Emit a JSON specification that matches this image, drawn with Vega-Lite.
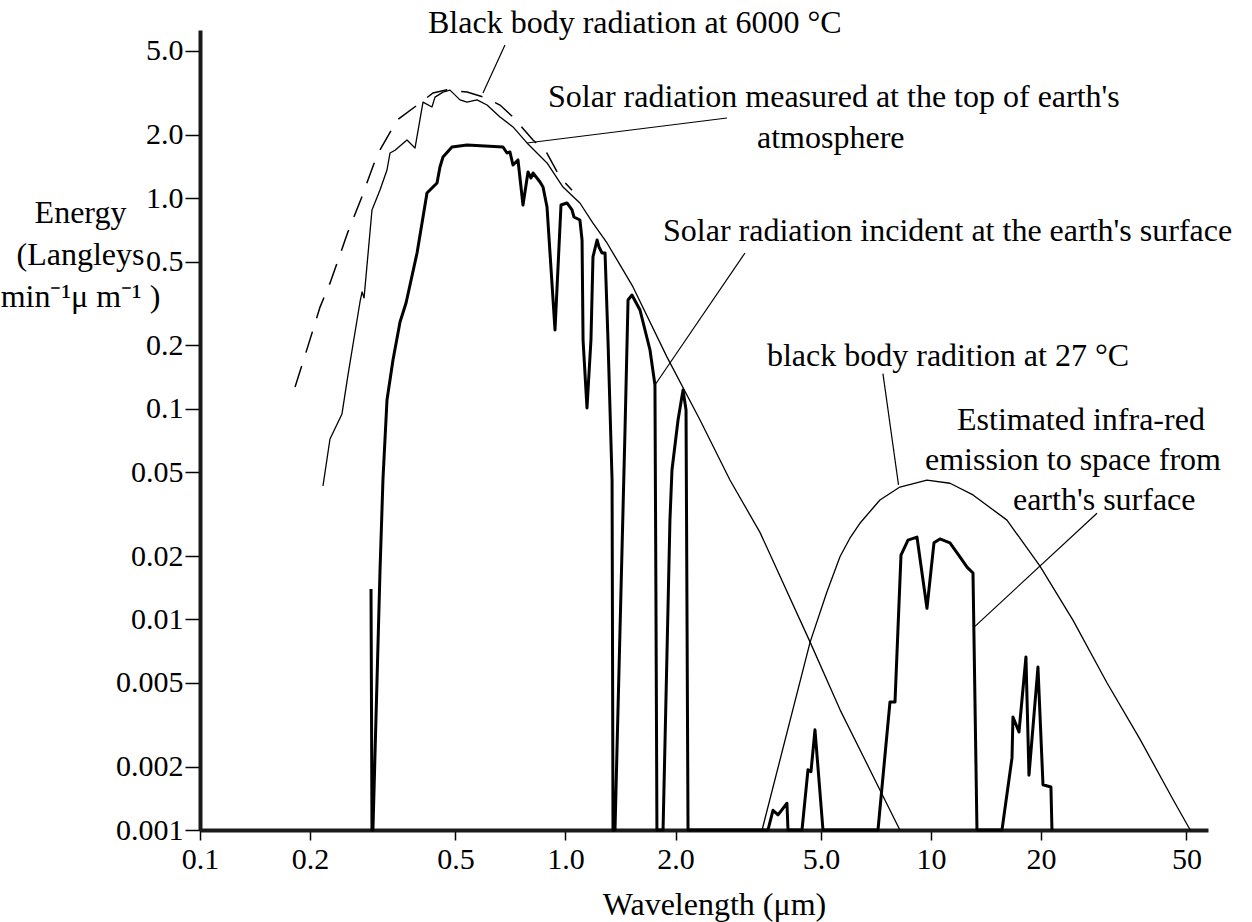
{
  "$schema": "https://vega.github.io/schema/vega-lite/v6.json",
  "width": 1008,
  "height": 800,
  "autosize": {"type": "none"},
  "padding": {"left": 200, "top": 30, "right": 44, "bottom": 92},
  "background": "white",
  "config": {"font": "Liberation Serif", "view": {"stroke": null}},
  "datasets": {
    "bb6000": [
      {"w": 0.182, "e": 0.127}, {"w": 0.1975, "e": 0.199}, {"w": 0.213, "e": 0.304}, {"w": 0.2268, "e": 0.395},
      {"w": 0.254, "e": 0.692}, {"w": 0.277, "e": 1.01}, {"w": 0.305, "e": 1.6}, {"w": 0.346, "e": 2.35},
      {"w": 0.4, "e": 2.83}, {"w": 0.434, "e": 3.16}, {"w": 0.474, "e": 3.27}, {"w": 0.538, "e": 3.19},
      {"w": 0.594, "e": 3.03}, {"w": 0.662, "e": 2.77}, {"w": 0.718, "e": 2.43}, {"w": 0.815, "e": 1.89},
      {"w": 0.889, "e": 1.64}, {"w": 0.966, "e": 1.26}, {"w": 1.042, "e": 1.09}
    ],
    "solarTop": [
      {"w": 0.217, "e": 0.043}, {"w": 0.2268, "e": 0.0719}, {"w": 0.2446, "e": 0.0945}, {"w": 0.254, "e": 0.1446},
      {"w": 0.274, "e": 0.3215}, {"w": 0.2776, "e": 0.359}, {"w": 0.2811, "e": 0.336}, {"w": 0.2955, "e": 0.879},
      {"w": 0.3108, "e": 1.094}, {"w": 0.3248, "e": 1.361}, {"w": 0.3311, "e": 1.64}, {"w": 0.3417, "e": 1.69},
      {"w": 0.3684, "e": 1.89}, {"w": 0.3875, "e": 1.73}, {"w": 0.4075, "e": 2.86}, {"w": 0.4312, "e": 2.71},
      {"w": 0.4395, "e": 3.02}, {"w": 0.4623, "e": 3.19}, {"w": 0.4831, "e": 3.26}, {"w": 0.5145, "e": 2.93},
      {"w": 0.5377, "e": 2.86}, {"w": 0.5727, "e": 2.93}, {"w": 0.61, "e": 2.77}, {"w": 0.6621, "e": 2.43},
      {"w": 0.7183, "e": 2.18}, {"w": 0.7846, "e": 1.83}, {"w": 0.8901, "e": 1.47}, {"w": 0.9845, "e": 1.13},
      {"w": 1.095, "e": 0.949}, {"w": 1.189, "e": 0.762}, {"w": 1.299, "e": 0.613}, {"w": 1.41, "e": 0.482},
      {"w": 1.53, "e": 0.379}, {"w": 1.896, "e": 0.176}, {"w": 2.334, "e": 0.0885}, {"w": 2.818, "e": 0.0459},
      {"w": 3.405, "e": 0.0259}, {"w": 4.67, "e": 0.0078}, {"w": 5.64, "e": 0.00372}, {"w": 7.25, "e": 0.00155},
      {"w": 8.22, "e": 0.001}
    ],
    "solarSurface": [
      {"w": 0.2937, "e": 0.01394}, {"w": 0.2955, "e": 0.001}, {"w": 0.2973, "e": 0.001}, {"w": 0.3108, "e": 0.01698},
      {"w": 0.3167, "e": 0.0464}, {"w": 0.3248, "e": 0.1101}, {"w": 0.3373, "e": 0.1705}, {"w": 0.3526, "e": 0.2584},
      {"w": 0.3662, "e": 0.318}, {"w": 0.3925, "e": 0.5493}, {"w": 0.4179, "e": 1.058}, {"w": 0.4451, "e": 1.181},
      {"w": 0.4535, "e": 1.407}, {"w": 0.4622, "e": 1.569}, {"w": 0.4891, "e": 1.751}, {"w": 0.5377, "e": 1.789},
      {"w": 0.6745, "e": 1.751}, {"w": 0.6917, "e": 1.639}, {"w": 0.7048, "e": 1.657}, {"w": 0.7183, "e": 1.438},
      {"w": 0.7413, "e": 1.519}, {"w": 0.7651, "e": 0.9285}, {"w": 0.7897, "e": 1.331}, {"w": 0.8047, "e": 1.247},
      {"w": 0.815, "e": 1.317}, {"w": 0.8517, "e": 1.194}, {"w": 0.868, "e": 1.13}, {"w": 0.8901, "e": 0.908},
      {"w": 0.9361, "e": 0.2367}, {"w": 0.9721, "e": 0.9285}, {"w": 1.0095, "e": 0.949}, {"w": 1.042, "e": 0.879},
      {"w": 1.055, "e": 0.814}, {"w": 1.095, "e": 0.788}, {"w": 1.11, "e": 0.633}, {"w": 1.117, "e": 0.2122},
      {"w": 1.145, "e": 0.1009}, {"w": 1.174, "e": 0.2122}, {"w": 1.189, "e": 0.526}, {"w": 1.22, "e": 0.633},
      {"w": 1.235, "e": 0.5867}, {"w": 1.259, "e": 0.5493}, {"w": 1.283, "e": 0.5493}, {"w": 1.307, "e": 0.2122},
      {"w": 1.341, "e": 0.0459}, {"w": 1.349, "e": 0.001}, {"w": 1.366, "e": 0.001}, {"w": 1.455, "e": 0.0793},
      {"w": 1.483, "e": 0.3286}, {"w": 1.52, "e": 0.347}, {"w": 1.599, "e": 0.2945}, {"w": 1.703, "e": 0.1902},
      {"w": 1.757, "e": 0.1297}, {"w": 1.768, "e": 0.01237}, {"w": 1.779, "e": 0.001}, {"w": 1.849, "e": 0.001},
      {"w": 1.931, "e": 0.02965}, {"w": 1.956, "e": 0.0512}, {"w": 2.032, "e": 0.0885}, {"w": 2.097, "e": 0.1228},
      {"w": 2.137, "e": 0.0987}, {"w": 2.164, "e": 0.001}, {"w": 3.581, "e": 0.001}, {"w": 3.696, "e": 0.00124},
      {"w": 3.815, "e": 0.00118}, {"w": 4.036, "e": 0.00134}, {"w": 4.062, "e": 0.001}, {"w": 4.437, "e": 0.001},
      {"w": 4.607, "e": 0.00193}, {"w": 4.695, "e": 0.00189}, {"w": 4.815, "e": 0.00299}, {"w": 5.064, "e": 0.001},
      {"w": 7.161, "e": 0.001}, {"w": 7.723, "e": 0.00405}, {"w": 7.971, "e": 0.00405}, {"w": 8.278, "e": 0.0202},
      {"w": 8.652, "e": 0.0238}, {"w": 9.155, "e": 0.0246}, {"w": 9.75, "e": 0.0113}, {"w": 10.19, "e": 0.0231},
      {"w": 10.58, "e": 0.0241}, {"w": 11.27, "e": 0.0231}, {"w": 12.0, "e": 0.0198}, {"w": 12.55, "e": 0.0177},
      {"w": 13.03, "e": 0.0166}, {"w": 13.36, "e": 0.001}, {"w": 15.64, "e": 0.001}, {"w": 16.66, "e": 0.0022},
      {"w": 16.76, "e": 0.00344}, {"w": 17.41, "e": 0.00292}, {"w": 18.19, "e": 0.00663}, {"w": 18.54, "e": 0.00182},
      {"w": 19.62, "e": 0.00594}, {"w": 20.25, "e": 0.00164}, {"w": 21.29, "e": 0.0016}, {"w": 21.43, "e": 0.001}
    ],
    "bb27": [
      {"w": 3.45, "e": 0.001}, {"w": 4.67, "e": 0.0078}, {"w": 5.19, "e": 0.0135}, {"w": 5.64, "e": 0.0199},
      {"w": 6.0, "e": 0.0243}, {"w": 6.39, "e": 0.0286}, {"w": 6.94, "e": 0.0338}, {"w": 7.25, "e": 0.0369},
      {"w": 8.22, "e": 0.0425}, {"w": 9.75, "e": 0.0459}, {"w": 11.27, "e": 0.0443}, {"w": 13.03, "e": 0.039},
      {"w": 16.14, "e": 0.0296}, {"w": 19.87, "e": 0.0179}, {"w": 24.48, "e": 0.0099}, {"w": 30.3, "e": 0.005},
      {"w": 37.3, "e": 0.0027}, {"w": 45.9, "e": 0.0014}, {"w": 51.2, "e": 0.001}
    ],
    "leaders": [
      {"w": 0.683, "e": 5.339, "w2": 0.5946, "e2": 3.159},
      {"w": 0.7846, "e": 1.829, "w2": 2.766, "e2": 2.403},
      {"w": 1.757, "e": 0.1297, "w2": 3.098, "e2": 0.5493},
      {"w": 7.389, "e": 0.147, "w2": 8.15, "e2": 0.0435},
      {"w": 13.19, "e": 0.00927, "w2": 28.46, "e2": 0.0319}
    ],
    "labels": [
      {"w": 0.4206, "e": 6.088, "t": "Black body radiation at 6000 °C"},
      {"w": 0.8957, "e": 2.711, "t": "Solar radiation measured at the top of earth's"},
      {"w": 3.342, "e": 1.731, "t": "atmosphere"},
      {"w": 1.849, "e": 0.6263, "t": "Solar radiation incident at the earth's surface"},
      {"w": 3.558, "e": 0.1597, "t": "black body radition at 27 °C"},
      {"w": 11.78, "e": 0.07932, "t": "Estimated infra-red"},
      {"w": 9.63, "e": 0.05122, "t": "emission to space from"},
      {"w": 16.76, "e": 0.03307, "t": "earth's surface"}
    ]
  },
  "encoding": {
    "x": {
      "field": "w",
      "type": "quantitative",
      "scale": {"type": "log", "domain": [0.1, 57.27], "nice": false},
      "axis": {
        "values": [0.1, 0.2, 0.5, 1, 2, 5, 10, 20, 50],
        "labelExpr": "datum.value >= 10 ? format(datum.value, 'd') : format(datum.value, '.1f')",
        "grid": false,
        "labelFontSize": 30,
        "labelColor": "black",
        "labelPadding": 4,
        "labelFlush": false,
        "labelOverlap": false,
        "tickSize": 10,
        "tickWidth": 1.5,
        "tickColor": "black",
        "domainColor": "#1a1a1a",
        "domainWidth": 4,
        "title": "Wavelength (μm)",
        "titleFontSize": 32,
        "titleFontWeight": "normal",
        "titleColor": "black",
        "titleAlign": "center",
        "titleBaseline": "alphabetic",
        "titleX": 514,
        "titleY": 84
      }
    },
    "y": {
      "field": "e",
      "type": "quantitative",
      "scale": {"type": "log", "domain": [0.001, 6.29], "nice": false},
      "axis": {
        "values": [0.001, 0.002, 0.005, 0.01, 0.02, 0.05, 0.1, 0.2, 0.5, 1, 2, 5],
        "labelExpr": "datum.value >= 1 ? format(datum.value, '.1f') : format(datum.value, '~g')",
        "grid": false,
        "labelFontSize": 30,
        "labelColor": "black",
        "labelPadding": 2,
        "labelFlush": false,
        "labelOverlap": false,
        "tickSize": 15,
        "tickWidth": 1.5,
        "tickColor": "black",
        "domainColor": "#1a1a1a",
        "domainWidth": 4,
        "title": ["Energy", "(Langleys", "min⁻¹μ m⁻¹ )"],
        "titleFontSize": 32,
        "titleFontWeight": "normal",
        "titleColor": "black",
        "titleAngle": 0,
        "titleAlign": "center",
        "titleBaseline": "alphabetic",
        "titleLineHeight": 42,
        "titleX": -120,
        "titleY": 192
      }
    }
  },
  "layer": [
    {
      "data": {"name": "bb6000"},
      "mark": {"type": "line", "color": "black", "strokeWidth": 1.5, "strokeDash": [22, 14]}
    },
    {
      "data": {"name": "solarTop"},
      "mark": {"type": "line", "color": "black", "strokeWidth": 1.3, "strokeJoin": "round"}
    },
    {
      "data": {"name": "solarSurface"},
      "mark": {"type": "line", "color": "black", "strokeWidth": 3, "strokeJoin": "round"}
    },
    {
      "data": {"name": "bb27"},
      "mark": {"type": "line", "color": "black", "strokeWidth": 1.3, "strokeJoin": "round"}
    },
    {
      "data": {"name": "leaders"},
      "mark": {"type": "rule", "color": "black", "strokeWidth": 1.2},
      "encoding": {"x2": {"field": "w2"}, "y2": {"field": "e2"}}
    },
    {
      "data": {"name": "labels"},
      "mark": {"type": "text", "align": "left", "baseline": "alphabetic", "fontSize": 32, "font": "Liberation Serif", "color": "black"},
      "encoding": {"text": {"field": "t", "type": "nominal"}}
    }
  ]
}
